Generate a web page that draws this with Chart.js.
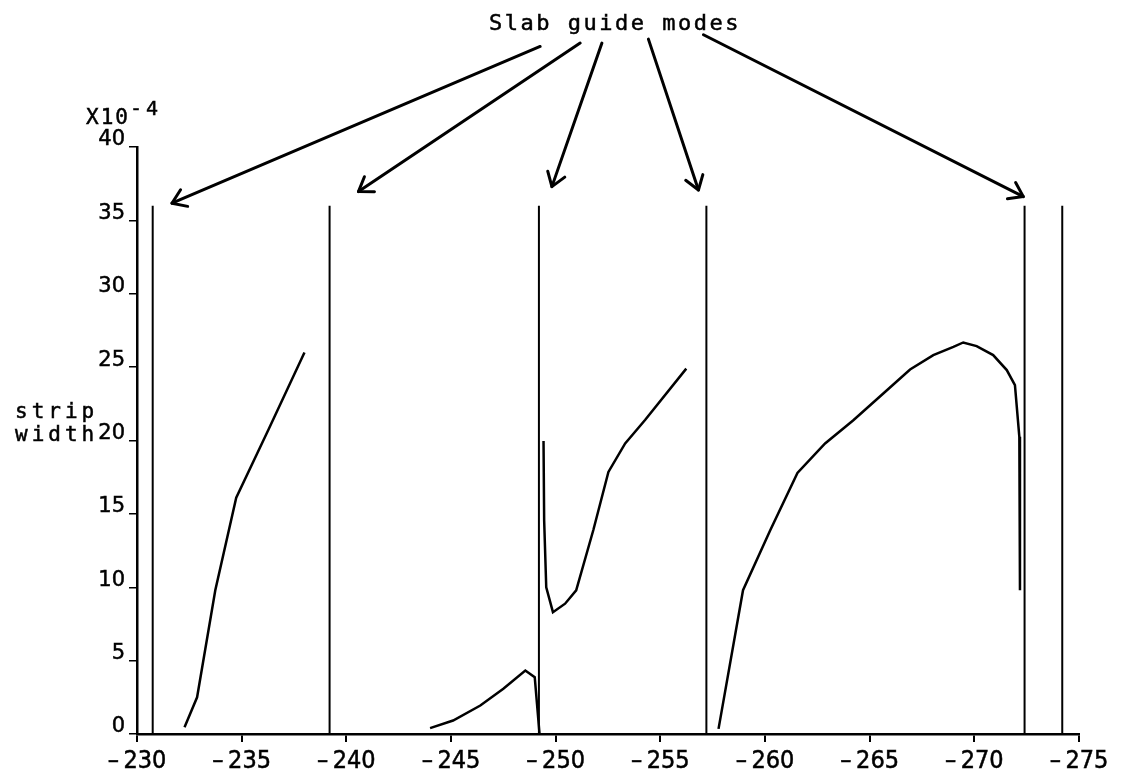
<!DOCTYPE html>
<html>
<head>
<meta charset="utf-8">
<script src="https://cdn.jsdelivr.net/npm/chart.js@4/dist/chart.umd.min.js"></script>
<style>
  html, body { margin: 0; padding: 0; background: #fff; }
  #wrap { width: 1122px; height: 774px; }
</style>
</head>
<body>
<div id="wrap"><canvas id="c" width="1122" height="774"></canvas></div>
<script>
// Propagation constant axis (reversed) and strip width (x10^-4)
const xTicksMin = -275, xTicksMax = -230, xStep = 5;
const yTicksMin = 0, yTicksMax = 40, yStep = 5;

// Slab guide mode cut-offs (vertical markers)
const modePositions = [-230.75, -239.2, -249.2, -257.2, -272.4, -274.2];
const modeHeight = 36;

// Branch 1
const branch1X = [-232.27, -232.87, -233.74, -234.74, -236.3, -238.0];
const branch1Y = [0.46, 2.5, 9.8, 16.1, 20.8, 26.0];

// Branch 2
const branch2X = [-244.0, -245.1, -246.4, -247.5, -248.55, -249.0, -249.23];
const branch2Y = [0.4, 0.92, 1.94, 3.08, 4.33, 3.87, 0];

// Branch 3
const branch3X = [-249.42, -249.45, -249.55, -249.87, -250.45, -250.98, -251.8, -252.52, -253.32, -254.27, -256.24];
const branch3Y = [19.97, 14.56, 10.0, 8.3, 8.88, 9.79, 13.9, 17.86, 19.8, 21.4, 24.9];

// Branch 4
const branch4X = [-257.78, -258.95, -260.25, -261.55, -262.87, -264.22, -265.65, -266.93, -268.04, -269.0, -269.47, -270.11, -270.9, -271.55, -271.94, -272.15, -272.18];
const branch4Y = [0.35, 9.8, 13.88, 17.79, 19.8, 21.38, 23.2, 24.84, 25.82, 26.38, 26.68, 26.43, 25.82, 24.8, 23.77, 20.25, 9.79];

// Arrows from the "Slab guide modes" caption to the mode markers
const arrowTailX = [-249.26, -251.17, -252.21, -254.43, -257.06];
const arrowTailY = [46.85, 47.08, 47.08, 47.35, 47.65];
const arrowTipX  = [-231.67, -240.58, -249.82, -256.82, -272.34];
const arrowTipY  = [36.17, 36.96, 37.3, 37.07, 36.62];

const zip = (xs, ys) => xs.map((x, i) => ({ x: x, y: ys[i] }));

function lineStyle(width) {
  return {
    borderColor: '#000',
    borderWidth: width,
    pointRadius: 0,
    pointHoverRadius: 0,
    fill: false,
    tension: 0
  };
}

const datasets = [];
modePositions.forEach(m => {
  datasets.push(Object.assign({ data: [{ x: m, y: 0 }, { x: m, y: modeHeight }] }, lineStyle(2)));
});
[[branch1X, branch1Y], [branch2X, branch2Y], [branch3X, branch3Y], [branch4X, branch4Y]].forEach(([xs, ys]) => {
  datasets.push(Object.assign({ data: zip(xs, ys) }, lineStyle(2.5)));
});

const textFont = '"DejaVu Sans Mono", monospace';

function penText(ctx, str, x, y) {
  ctx.fillText(str, x, y);
  ctx.strokeText(str, x, y);
}

const overlay = {
  id: 'overlay',
  afterDatasetsDraw(chart) {
    const ctx = chart.ctx;
    const xs = chart.scales.x, ys = chart.scales.y;
    ctx.save();
    ctx.strokeStyle = '#000';
    ctx.lineWidth = 3;
    ctx.lineCap = 'round';
    ctx.lineJoin = 'round';
    for (let i = 0; i < arrowTipX.length; i++) {
      const x0 = xs.getPixelForValue(arrowTailX[i]);
      const y0 = ys.getPixelForValue(arrowTailY[i]);
      const x1 = xs.getPixelForValue(arrowTipX[i]);
      const y1 = ys.getPixelForValue(arrowTipY[i]);
      ctx.beginPath();
      ctx.moveTo(x0, y0);
      ctx.lineTo(x1, y1);
      ctx.stroke();
      const ang = Math.atan2(y1 - y0, x1 - x0);
      const len = 16, spread = 0.6;
      ctx.beginPath();
      ctx.moveTo(x1 - len * Math.cos(ang - spread), y1 - len * Math.sin(ang - spread));
      ctx.lineTo(x1, y1);
      ctx.lineTo(x1 - len * Math.cos(ang + spread), y1 - len * Math.sin(ang + spread));
      ctx.stroke();
    }
    ctx.restore();
  },
  afterDraw(chart) {
    const ctx = chart.ctx;
    ctx.save();
    ctx.fillStyle = '#000';
    ctx.strokeStyle = '#000';
    ctx.lineWidth = 0.5;
    ctx.textAlign = 'left';
    ctx.textBaseline = 'alphabetic';
    // caption
    ctx.font = '22px ' + textFont;
    try { ctx.letterSpacing = '2.5px'; } catch (e) {}
    penText(ctx, 'Slab guide modes', 489, 30);
    // axis multiplier
    ctx.font = '21px ' + textFont;
    try { ctx.letterSpacing = '2px'; } catch (e) {}
    penText(ctx, 'X10', 86, 124);
    ctx.font = '20px ' + textFont;
    try { ctx.letterSpacing = '4px'; } catch (e) {}
    penText(ctx, '-4', 130, 115);
    // y-axis title
    ctx.font = '21px ' + textFont;
    try { ctx.letterSpacing = '4px'; } catch (e) {}
    penText(ctx, 'strip', 15, 418);
    penText(ctx, 'width', 15, 441);
    ctx.restore();
  }
};

new Chart(document.getElementById('c'), {
  type: 'line',
  data: { datasets: datasets },
  plugins: [overlay],
  options: {
    responsive: false,
    animation: false,
    devicePixelRatio: 1,
    layout: { padding: { left: 0, right: 43, top: 147, bottom: 0 } },
    plugins: { legend: { display: false }, tooltip: { enabled: false }, title: { display: false } },
    scales: {
      x: {
        type: 'linear',
        min: xTicksMin,
        max: xTicksMax,
        reverse: true,
        afterFit(scale) { scale.height = 40; },
        border: { display: true, color: '#000', width: 2.5 },
        grid: { display: true, drawOnChartArea: false, drawTicks: true, tickLength: 8, color: '#000', lineWidth: 2 },
        ticks: {
          stepSize: xStep,
          color: '#000',
          padding: 4,
          textStrokeColor: '#000',
          textStrokeWidth: 0.5,
          font: { family: '"DejaVu Sans Condensed", "DejaVu Sans"', size: 25 },
          maxRotation: 0,
          callback: v => (v < 0 ? '\u2013\u2009' : '') + String(Math.abs(v))
        }
      },
      y: {
        type: 'linear',
        min: yTicksMin,
        max: yTicksMax,
        afterFit(scale) { scale.width = 137; },
        border: { display: true, color: '#000', width: 2.5 },
        grid: { display: true, drawOnChartArea: false, drawTicks: true, tickLength: 8, color: '#000', lineWidth: 1.5 },
        ticks: {
          stepSize: yStep,
          color: '#000',
          padding: 4,
          labelOffset: -7,
          textStrokeColor: '#000',
          textStrokeWidth: 0.5,
          font: { family: 'DejaVu Sans', size: 21 }
        }
      }
    }
  }
});
</script>
</body>
</html>
